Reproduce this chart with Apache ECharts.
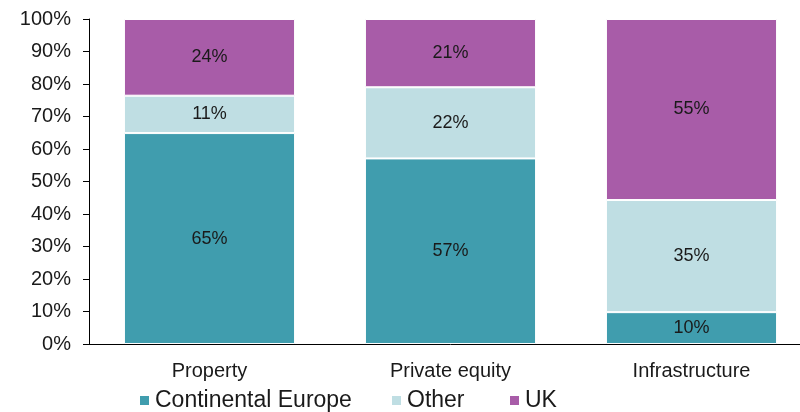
<!DOCTYPE html>
<html>
<head>
<meta charset="utf-8">
<script src="https://cdn.jsdelivr.net/npm/echarts@6/dist/echarts.min.js"></script>
<style>
  html, body { margin: 0; padding: 0; background: #fff; overflow: hidden; }
  /* the plot runs a little past the right edge of the picture */
  #chart { width: 812px; height: 412px; }
</style>
</head>
<body>
<div id="chart"></div>
<script>
// Data
const categories = ['Property', 'Private equity', 'Infrastructure'];
const continentalEurope = [64.9, 57.1, 9.8];
const other = [11.5, 21.9, 34.5];
const uk = [23.6, 21.0, 55.7];
// labels as printed on the bars
const continentalEuropeLabels = ['65%', '57%', '10%'];
const otherLabels = ['11%', '22%', '35%'];
const ukLabels = ['24%', '21%', '55%'];

const chart = echarts.init(document.getElementById('chart'));

const font = 'Liberation Sans, Arial, sans-serif';

const makeSeries = (name, data, labels, color) => ({
  name,
  type: 'bar',
  stack: 'total',
  barCategoryGap: '29%',
  data,
  itemStyle: { color, borderColor: '#fff', borderWidth: 1 },
  label: {
    show: true,
    position: 'inside',
    color: '#1a1a1a',
    fontFamily: font,
    fontSize: 18,
    formatter: (p) => labels[p.dataIndex]
  }
});

// one legend per entry so each can sit where the reference puts it
const makeLegend = (name, left) => ({
  left,
  top: 389,
  padding: 0,
  itemWidth: 11,
  itemHeight: 11,
  icon: 'rect',
  textStyle: { fontSize: 23, color: '#1a1a1a', fontFamily: font },
  data: [name]
});

chart.setOption({
  animation: false,
  textStyle: { fontFamily: font },
  grid: {
    left: 89,
    top: 19,
    right: 0,
    bottom: 68
  },
  legend: [
    makeLegend('Continental Europe', 138),
    makeLegend('Other', 390),
    makeLegend('UK', 508)
  ],
  xAxis: {
    type: 'category',
    data: categories,
    axisLine: { lineStyle: { color: '#000' } },
    axisTick: { length: 6, lineStyle: { color: '#000' } },
    axisLabel: { color: '#1a1a1a', fontSize: 20, margin: 17 }
  },
  yAxis: {
    type: 'value',
    min: 0,
    max: 100,
    interval: 10,
    axisLine: { show: true, lineStyle: { color: '#000' } },
    axisTick: { show: true, length: 6, lineStyle: { color: '#000' } },
    splitLine: { show: false },
    axisLabel: { color: '#1a1a1a', fontSize: 20, margin: 18, formatter: '{value}%' }
  },
  series: [
    makeSeries('Continental Europe', continentalEurope, continentalEuropeLabels, '#409dae'),
    makeSeries('Other', other, otherLabels, '#bfdee3'),
    makeSeries('UK', uk, ukLabels, '#a85ca8')
  ]
});
</script>
</body>
</html>
